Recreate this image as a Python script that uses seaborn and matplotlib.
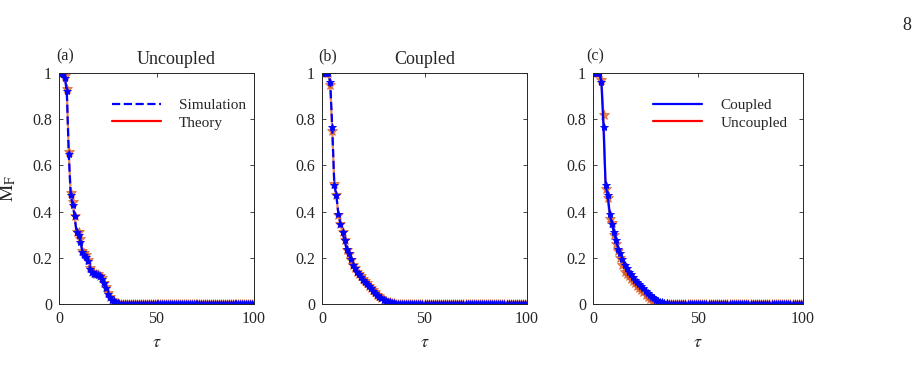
import numpy as np
import pandas as pd
import matplotlib
matplotlib.use("Agg")
import matplotlib.pyplot as plt
import seaborn as sns
from matplotlib.lines import Line2D

# tau grid 0..100
tau = list(range(0, 101))

# (a) uncoupled network: simulation and theory (first 32 points, then zero)
unc_sim_head = [1, 1, 0.995, 0.98, 0.92, 0.65, 0.47, 0.43, 0.38, 0.31, 0.30,
                0.27, 0.225, 0.21, 0.205, 0.185, 0.15, 0.14, 0.13, 0.13, 0.125,
                0.12, 0.11, 0.09, 0.07, 0.045, 0.03, 0.018, 0.011, 0.006, 0.003, 0.001]
unc_thr_head = [1, 1, 1, 0.985, 0.93, 0.66, 0.48, 0.44, 0.38, 0.31, 0.31,
                0.28, 0.23, 0.22, 0.21, 0.19, 0.155, 0.14, 0.135, 0.13, 0.128,
                0.12, 0.112, 0.092, 0.072, 0.047, 0.03, 0.019, 0.011, 0.006, 0.003, 0.001]

# (b) coupled network: simulation and theory
cpl_sim_head = [1, 1, 1, 1, 0.96, 0.765, 0.515, 0.47, 0.39, 0.345, 0.31,
                0.275, 0.24, 0.22, 0.195, 0.17, 0.155, 0.14, 0.13, 0.115, 0.105,
                0.097, 0.088, 0.078, 0.068, 0.058, 0.049, 0.04, 0.032, 0.025, 0.019,
                0.014, 0.01, 0.007, 0.005, 0.003, 0.002, 0.001]
cpl_thr_head = [1, 1, 1, 1, 0.95, 0.75, 0.52, 0.47, 0.385, 0.345, 0.31,
                0.275, 0.235, 0.215, 0.19, 0.17, 0.155, 0.14, 0.13, 0.12, 0.108,
                0.1, 0.09, 0.08, 0.07, 0.06, 0.05, 0.041, 0.033, 0.025, 0.019,
                0.014, 0.01, 0.007, 0.005, 0.003, 0.002, 0.001]

# (c) comparison: coupled vs uncoupled
cmp_cpl_head = cpl_sim_head
cmp_unc_head = [1, 1, 1, 1, 0.97, 0.82, 0.5, 0.46, 0.37, 0.35, 0.30,
                0.26, 0.23, 0.20, 0.17, 0.14, 0.13, 0.12, 0.11, 0.10, 0.09,
                0.08, 0.07, 0.06, 0.05, 0.04, 0.03, 0.02, 0.012, 0.007, 0.003, 0.001]


def pad(head):
    return head + [0.0] * (len(tau) - len(head))


sns.set_style("ticks")
plt.rcParams["font.family"] = ["Liberation Serif", "DejaVu Serif"]
plt.rcParams["mathtext.fontset"] = "stix"

BLUE = "#0000FF"
ORANGE = "#D95319"
EDGE = "#262626"

fig = plt.figure(figsize=(9.23, 3.77), dpi=100)
boxes = [[59 / 923, 73 / 377, 195 / 923, 231 / 377],
         [322 / 923, 73 / 377, 205 / 923, 231 / 377],
         [593 / 923, 73 / 377, 210 / 923, 231 / 377]]
axes = []
for b in boxes:
    l, btm, w, h = b
    axes.append(fig.add_axes([l, 1 - btm - h, w, h]))


def draw(ax, y, color, ls, ms, alpha=1.0, lw=1.4):
    sns.lineplot(x=tau, y=y, ax=ax, color=color, linestyle=ls, lw=lw,
                 marker="*", markersize=ms, markeredgecolor=color,
                 markerfacecolor=color, markeredgewidth=0.6, alpha=alpha)


# (a)
ax = axes[0]
draw(ax, pad(unc_thr_head), ORANGE, "-", 7.5, alpha=0.7, lw=1.6)
draw(ax, pad(unc_sim_head), BLUE, "--", 6, lw=1.6)
# (b)
ax = axes[1]
draw(ax, pad(cpl_thr_head), ORANGE, "-", 7.5, alpha=0.7, lw=1.6)
draw(ax, pad(cpl_sim_head), BLUE, "--", 6, lw=1.6)
# (c)
ax = axes[2]
draw(ax, pad(cmp_unc_head), ORANGE, "-", 7.5, alpha=0.7, lw=1.6)
draw(ax, pad(cmp_cpl_head), BLUE, "-", 6, lw=1.6)

for ax in axes:
    ax.set_xlim(0, 100)
    ax.set_ylim(0, 1)
    ax.set_xticks([0, 50, 100])
    ax.set_yticks([0, 0.2, 0.4, 0.6, 0.8, 1])
    ax.set_yticklabels(["0", "0.2", "0.4", "0.6", "0.8", "1"])
    ax.tick_params(direction="in", top=True, right=True, length=3,
                   width=0.6, labelsize=11.5, colors=EDGE, pad=5)
    for s in ax.spines.values():
        s.set_visible(True)
        s.set_color(EDGE)
        s.set_linewidth(0.7)
    ax.set_xlabel(r"$\tau$", fontsize=13, color=EDGE, labelpad=5)
    ax.set_ylabel("")

axes[0].set_ylabel(r"$\mathrm{M}_{\mathrm{F}}$", fontsize=14, color=EDGE, labelpad=10)

axes[0].text(-0.015, 1.055, "(a)", transform=axes[0].transAxes, fontsize=11.5, color=EDGE)
axes[0].text(0.6, 1.04, "Uncoupled", transform=axes[0].transAxes, fontsize=13,
             ha="center", color=EDGE)
axes[1].text(-0.02, 1.055, "(b)", transform=axes[1].transAxes, fontsize=11.5, color=EDGE)
axes[1].text(0.5, 1.04, "Coupled", transform=axes[1].transAxes, fontsize=13,
             ha="center", color=EDGE)
axes[2].text(-0.03, 1.055, "(c)", transform=axes[2].transAxes, fontsize=11.5, color=EDGE)

h_a = [Line2D([], [], color=BLUE, ls="--", lw=1.6),
       Line2D([], [], color="#FF0000", lw=1.6)]
axes[0].legend(h_a, ["Simulation", "Theory"], loc="upper left",
               bbox_to_anchor=(0.2, 0.95), frameon=False, fontsize=11,
               handlelength=3.2, handletextpad=1.2, labelspacing=0.25)
h_c = [Line2D([], [], color=BLUE, lw=1.6),
       Line2D([], [], color="#FF0000", lw=1.6)]
axes[2].legend(h_c, ["Coupled", "Uncoupled"], loc="upper left",
               bbox_to_anchor=(0.22, 0.95), frameon=False, fontsize=11,
               handlelength=3.2, handletextpad=1.2, labelspacing=0.25)

fig.text(0.987, 0.955, "8", fontsize=13, ha="right", va="top", color=EDGE)

fig.savefig("out.png", dpi=100)
